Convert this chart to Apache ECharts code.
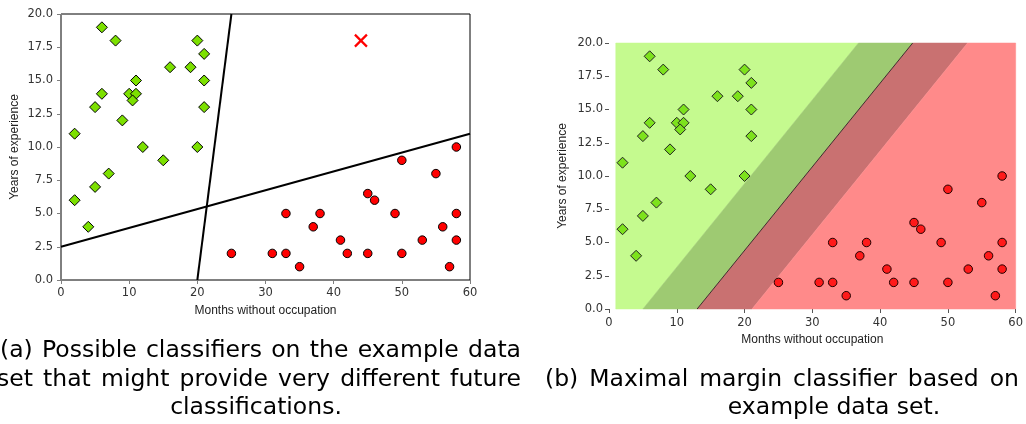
<!DOCTYPE html>
<html lang="en">
<head>
    <meta charset="UTF-8">
    <title>Maximal margin classifier</title>
    <script src="https://cdn.jsdelivr.net/npm/echarts@6/dist/echarts.min.js"></script>
    <style>
        * {
            margin: 0;
            padding: 0;
            box-sizing: border-box;
        }

        body {
            background: #ffffff;
        }

        #chart {
            width: 1026px;
            height: 424px;
        }
    </style>
</head>
<body>
    <div id="chart"></div>

    <script>
        // data: [months without occupation, years of experience]
        const greenPoints = [
            [6, 19], [8, 18], [20, 18], [21, 17], [16, 16], [19, 16], [11, 15], [21, 15],
            [6, 14], [10, 14], [11, 14], [10.5, 13.5], [5, 13], [21, 13], [9, 12], [2, 11],
            [12, 10], [20, 10], [15, 9], [7, 8], [5, 7], [2, 6], [4, 4]
        ];
        const redPoints = [
            [25, 2], [31, 2], [33, 2], [33, 5], [35, 1], [37, 4], [38, 5], [41, 3],
            [42, 2], [45, 2], [45, 6.5], [46, 6], [49, 5], [50, 2], [50, 9], [53, 3],
            [55, 8], [56, 4], [57, 1], [58, 10], [58, 5], [58, 3]
        ];
        const newPoint = [[44, 18]];

        // two candidate classifiers (left panel)
        const classifierA = [[20, 0], [25, 20]];
        const classifierB = [[0, 2.5], [60, 11]];

        // maximal margin classifier (right panel)
        const marginGreen = [[5, 0], [36.8, 20]];
        const decisionLine = [[13, 0], [44.8, 20]];
        const marginRed = [[21.1, 0], [52.9, 20]];
        const meshX = [1, 60];
        const meshY = [0, 20];

        const xTicks = [0, 10, 20, 30, 40, 50, 60];
        const yTicks = [0, 2.5, 5, 7.5, 10, 12.5, 15, 17.5, 20];

        const regionColors = ['#c5fa8f', '#9eca72', '#c97171', '#ff8a8a'];
        const regions = [
            [[meshX[0], meshY[0]], marginGreen[0], marginGreen[1], [meshX[0], meshY[1]]],
            [marginGreen[0], decisionLine[0], decisionLine[1], marginGreen[1]],
            [decisionLine[0], marginRed[0], marginRed[1], decisionLine[1]],
            [marginRed[0], [meshX[1], meshY[0]], [meshX[1], meshY[1]], marginRed[1]]
        ];

        const tickFont = 'DejaVu Sans';
        const nameFont = 'Liberation Sans';
        const captionFont = '23.5px "DejaVu Sans"';

        // measure words so a caption line can be spread between two edges (justified)
        const measureCtx = document.createElement('canvas').getContext('2d');
        measureCtx.font = captionFont;

        function justified(text, x0, x1, y) {
            const words = text.split(' ');
            const widths = words.map(w => measureCtx.measureText(w).width);
            const total = widths.reduce((a, b) => a + b, 0);
            const gap = (x1 - x0 - total) / (words.length - 1);
            let x = x0;
            return words.map((w, i) => {
                const el = {
                    type: 'text', x: x, y: y,
                    style: { text: w, font: captionFont, fill: '#000', textAlign: 'left', textVerticalAlign: 'middle' }
                };
                x += widths[i] + gap;
                return el;
            });
        }

        function centered(text, cx, y) {
            return {
                type: 'text', x: cx, y: y,
                style: { text: text, font: captionFont, fill: '#000', textAlign: 'center', textVerticalAlign: 'middle' }
            };
        }

        function makeX(grid, opts) {
            return Object.assign({
                gridIndex: grid,
                type: 'value',
                min: xTicks[0],
                max: xTicks[xTicks.length - 1],
                interval: 10,
                name: 'Months without occupation',
                nameLocation: 'middle',
                nameTextStyle: { fontFamily: nameFont, fontSize: 12, color: '#222' },
                splitLine: { show: false }
            }, opts);
        }

        function makeY(grid, opts) {
            return Object.assign({
                gridIndex: grid,
                type: 'value',
                min: yTicks[0],
                max: yTicks[yTicks.length - 1],
                interval: 2.5,
                name: 'Years of experience',
                nameLocation: 'middle',
                nameGap: 40,
                nameTextStyle: { fontFamily: nameFont, fontSize: 12, color: '#222' },
                splitLine: { show: false },
                axisLabel: {
                    fontFamily: tickFont, fontSize: 11.5, color: '#333',
                    formatter: v => v.toFixed(1)
                }
            }, opts);
        }

        const grey = '#7f7f7f';
        const chart = echarts.init(document.getElementById('chart'));
        chart.setOption({
            animation: false,
            grid: [
                { left: 61, top: 14, width: 409, height: 266, show: true, borderColor: '#000', borderWidth: 1 },
                { left: 609, top: 43, width: 409, height: 266 }
            ],
            xAxis: [
                makeX(0, {
                    nameGap: 25,
                    axisLine: { show: true, lineStyle: { color: grey, width: 1 } },
                    axisTick: { show: true, length: 4, lineStyle: { color: grey } },
                    axisLabel: { fontFamily: tickFont, fontSize: 11.5, color: '#333', margin: 7 }
                }),
                makeX(1, {
                    nameGap: 24,
                    axisLine: { show: false },
                    axisTick: { show: true, length: 4, lineStyle: { color: '#555' } },
                    axisLabel: { fontFamily: tickFont, fontSize: 11.5, color: '#333', margin: 8 }
                })
            ],
            yAxis: [
                makeY(0, {
                    axisLine: { show: true, lineStyle: { color: grey, width: 1 } },
                    axisTick: { show: true, length: 4, lineStyle: { color: grey } }
                }),
                makeY(1, {
                    axisLine: { show: false },
                    axisTick: { show: true, length: 4, lineStyle: { color: '#555' } },
                    axisLabel: {
                        fontFamily: tickFont, fontSize: 11.5, color: '#333', margin: 6,
                        formatter: v => v.toFixed(1)
                    }
                })
            ],
            series: [
                // left panel
                {
                    type: 'line', xAxisIndex: 0, yAxisIndex: 0, data: classifierA,
                    showSymbol: false, lineStyle: { color: '#000', width: 2 }, z: 2
                },
                {
                    type: 'line', xAxisIndex: 0, yAxisIndex: 0, data: classifierB,
                    showSymbol: false, lineStyle: { color: '#000', width: 2 }, z: 2
                },
                {
                    type: 'scatter', xAxisIndex: 0, yAxisIndex: 0, data: greenPoints,
                    symbol: 'diamond', symbolSize: 11,
                    itemStyle: { color: '#7ce000', borderColor: '#000', borderWidth: 1, opacity: 1 }, z: 3
                },
                {
                    type: 'scatter', xAxisIndex: 0, yAxisIndex: 0, data: redPoints,
                    symbol: 'circle', symbolSize: 8.5,
                    itemStyle: { color: '#ff0000', borderColor: '#000', borderWidth: 1, opacity: 1 }, z: 3
                },
                {
                    type: 'custom', xAxisIndex: 0, yAxisIndex: 0, data: newPoint, z: 4,
                    renderItem: function (params, api) {
                        const c = api.coord([api.value(0), api.value(1)]);
                        const s = 6;
                        const style = { stroke: '#ff0000', lineWidth: 2.2 };
                        return {
                            type: 'group',
                            children: [
                                { type: 'line', shape: { x1: c[0] - s, y1: c[1] - s, x2: c[0] + s, y2: c[1] + s }, style: style },
                                { type: 'line', shape: { x1: c[0] - s, y1: c[1] + s, x2: c[0] + s, y2: c[1] - s }, style: style }
                            ]
                        };
                    }
                },
                // right panel: decision regions and margins
                {
                    type: 'custom', xAxisIndex: 1, yAxisIndex: 1, z: 1,
                    data: regions.map(r => r[0]),
                    renderItem: function (params, api) {
                        const pts = regions[params.dataIndex].map(p => api.coord(p));
                        return {
                            type: 'polygon',
                            shape: { points: pts },
                            style: { fill: regionColors[params.dataIndex], stroke: regionColors[params.dataIndex], lineWidth: 0.5 }
                        };
                    }
                },
                {
                    type: 'line', xAxisIndex: 1, yAxisIndex: 1, data: decisionLine,
                    showSymbol: false, lineStyle: { color: '#1a1a1a', width: 0.8 }, z: 2
                },
                {
                    type: 'scatter', xAxisIndex: 1, yAxisIndex: 1, data: greenPoints,
                    symbol: 'diamond', symbolSize: 11,
                    itemStyle: { color: '#7de21c', borderColor: '#222', borderWidth: 1, opacity: 1 }, z: 3
                },
                {
                    type: 'scatter', xAxisIndex: 1, yAxisIndex: 1, data: redPoints,
                    symbol: 'circle', symbolSize: 8.5,
                    itemStyle: { color: '#ff1a1a', borderColor: '#220000', borderWidth: 1, opacity: 1 }, z: 3
                }
            ],
            graphic: [].concat(
                justified('(a) Possible classifiers on the example data', 0, 521, 351),
                justified('set that might provide very different future', -3, 521, 380),
                [centered('classifications.', 256, 408)],
                justified('(b) Maximal margin classifier based on', 545, 1019, 380),
                [centered('example data set.', 834, 408)]
            )
        });
    </script>
</body>
</html>
